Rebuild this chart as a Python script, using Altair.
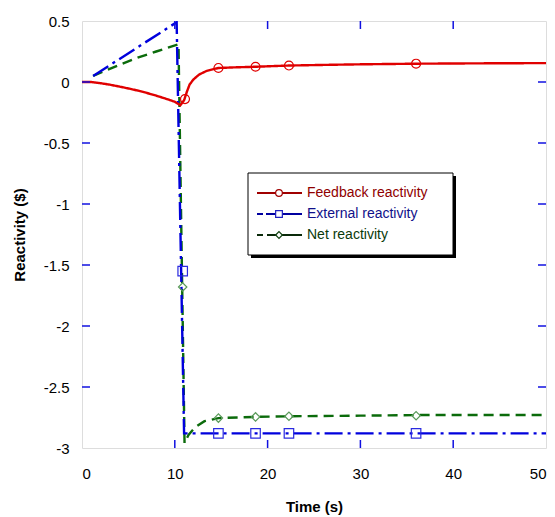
import altair as alt
import pandas as pd

# ---------------- data ----------------
fb_t = [0, 1, 2, 3, 4, 5, 6, 7, 8, 9, 10, 10.6, 11.0, 11.3, 11.6, 12.0, 12.6, 13.4, 14.7, 16.5, 18.7, 22.3, 26, 30, 36, 43, 50]
fb_v = [0, 0, -0.01, -0.022, -0.037, -0.053, -0.07, -0.09, -0.112, -0.136, -0.162, -0.19, -0.15, -0.08, -0.02, 0.02, 0.06, 0.09, 0.115, 0.12, 0.125, 0.135, 0.14, 0.145, 0.15, 0.153, 0.155]

ext_t = [1.2, 10.2, 11.0, 50]
ext_v = [0.05, 0.49, -2.88, -2.88]

net_t = [1.2, 4, 6, 8, 10.4, 11.05, 11.5, 12.2, 13.2, 14.7, 18.7, 22.3, 30, 36, 50]
net_v = [0.05, 0.14, 0.2, 0.25, 0.31, -2.96, -2.89, -2.83, -2.78, -2.755, -2.745, -2.74, -2.735, -2.73, -2.73]

fb_mt = [11.1, 14.7, 18.7, 22.3, 36]
fb_mv = [-0.14, 0.115, 0.125, 0.135, 0.15]
ext_mt = [10.85, 14.7, 18.7, 22.3, 36]
ext_mv = [-1.55, -2.88, -2.88, -2.88, -2.88]
net_mt = [10.85, 14.7, 18.7, 22.3, 36]
net_mv = [-1.68, -2.755, -2.745, -2.74, -2.735]

x_ticks = [0, 10, 20, 30, 40, 50]
y_ticks = [0.5, 0, -0.5, -1, -1.5, -2, -2.5, -3]
x_inner_ticks = [10, 20, 30, 40]
y_inner_ticks = [0, -0.5, -1, -1.5, -2, -2.5]

legend_labels = ["Feedback reactivity", "External reactivity", "Net reactivity"]

# ---------------- styling ----------------
W, H = 464, 427
FONT = "Liberation Sans"
RED, BLUE, GREEN = "#e00000", "#0000dd", "#0b6b0b"
FRAME = "#3c3cff"

xs = alt.Scale(domain=[0, 50], nice=False, zero=False)
ys = alt.Scale(domain=[-3, 0.5], nice=False, zero=False)

x_axis = alt.Axis(values=x_ticks, title="Time (s)", grid=False, domain=False, ticks=False, tickSize=0,
                  labelPadding=18, labelFontSize=15, labelFont=FONT, labelColor="black",
                  titleFont=FONT, titleFontSize=15, titleFontWeight="bold", titleColor="black",
                  titleY=51, titleBaseline="top")
y_axis = alt.Axis(values=y_ticks, title="Reactivity ($)", grid=False, domain=False, ticks=False, tickSize=0,
                  labelPadding=13, labelFontSize=15, labelFont=FONT, labelColor="black",
                  labelExpr="toString(datum.value)",
                  titleFont=FONT, titleFontSize=15, titleFontWeight="bold", titleColor="black",
                  titleX=-63, titleBaseline="middle")


def X():
    return alt.X("t:Q", scale=xs, axis=x_axis, title="Time (s)")


def Y():
    return alt.Y("v:Q", scale=ys, axis=y_axis, title="Reactivity ($)")


def line_layer(ts, vs, color, dash):
    df = pd.DataFrame({"t": ts, "v": vs})
    return alt.Chart(df).mark_line(color=color, strokeWidth=2.4, strokeDash=dash, clip=True).encode(
        x=X(), y=Y())


def marker_layer(ts, vs, color, shape, size):
    df = pd.DataFrame({"t": ts, "v": vs})
    return alt.Chart(df).mark_point(shape=shape, color=color, filled=False, size=size, strokeWidth=1.2,
                                    opacity=1).encode(x=X(), y=Y())


net_line = line_layer(net_t, net_v, GREEN, [10, 6])
ext_line = line_layer(ext_t, ext_v, BLUE, [18, 5, 3, 5])
fb_line = line_layer(fb_t, fb_v, RED, [1, 0])

net_marks = marker_layer(net_mt, net_mv, "#5a9a5a", "diamond", 70)
ext_marks = marker_layer(ext_mt, ext_mv, "#2a2ae0", "square", 90)
fb_marks = marker_layer(fb_mt, fb_mv, RED, "circle", 80)

# inward ticks on all four sides
xt = pd.DataFrame({"t": x_inner_ticks})
yt = pd.DataFrame({"v": y_inner_ticks})
tick_bottom = alt.Chart(xt).mark_rule(color="#1010e0", strokeWidth=1.5).encode(
    x=X(), y=alt.value(H), y2=alt.value(H - 8))
tick_top = alt.Chart(xt).mark_rule(color="#1010e0", strokeWidth=1.5).encode(
    x=X(), y=alt.value(0), y2=alt.value(8))
tick_left = alt.Chart(yt).mark_rule(color="#1010e0", strokeWidth=1.5).encode(
    y=Y(), x=alt.value(0), x2=alt.value(8))
tick_right = alt.Chart(yt).mark_rule(color="#1010e0", strokeWidth=1.5).encode(
    y=Y(), x=alt.value(W), x2=alt.value(W - 8))

# ---------------- manual legend ----------------
one = pd.DataFrame({"a": [0]})
LX0, LX1, LY0, LY1 = 166, 371, 152, 234
legend_shadow = alt.Chart(one).mark_rect(fill="black").encode(
    x=alt.value(LX0 + 3), x2=alt.value(LX1 + 3), y=alt.value(LY0 + 3), y2=alt.value(LY1 + 3))
legend_box = alt.Chart(one).mark_rect(fill="white", stroke="black", strokeWidth=1).encode(
    x=alt.value(LX0), x2=alt.value(LX1), y=alt.value(LY0), y2=alt.value(LY1))

rows_y = [172, 193, 214]
line_cols = ["#a00000", "#0000a0", "#0a2a0a"]
line_dash = [[1, 0], [6, 3, 40, 200], [6, 4, 40, 200]]
mark_cols = ["#a00000", "#2020c0", "#104010"]
mark_shapes = ["circle", "square", "diamond"]
text_cols = ["#900000", "#10108a", "#0a3a0a"]

legend_layers = [legend_shadow, legend_box]
for i in range(3):
    yy = rows_y[i]
    legend_layers.append(alt.Chart(one).mark_rule(color=line_cols[i], strokeWidth=2, strokeDash=line_dash[i]).encode(
        x=alt.value(175), x2=alt.value(220), y=alt.value(yy)))
    legend_layers.append(alt.Chart(one).mark_point(shape=mark_shapes[i], stroke=mark_cols[i], filled=True,
                                                   fill="white", size=45, strokeWidth=1.2, opacity=1,
                                                   fillOpacity=1, strokeOpacity=1).encode(
        x=alt.value(197), y=alt.value(yy)))
    legend_layers.append(alt.Chart(pd.DataFrame({"label": [legend_labels[i]]})).mark_text(
        align="left", baseline="middle", font=FONT, fontSize=14, color=text_cols[i]).encode(
        x=alt.value(225), y=alt.value(yy), text="label:N"))

chart = alt.layer(
    net_line, ext_line, fb_line,
    net_marks, ext_marks, fb_marks,
    tick_bottom, tick_top, tick_left, tick_right,
    *legend_layers
).properties(
    width=W, height=H,
    autosize=alt.AutoSizeParams(type="none"),
    padding={"left": 74, "top": 13, "right": 1, "bottom": 69},
).configure_view(
    stroke=FRAME, strokeWidth=1.6
).configure(background="white")

chart.save("out.html", embed_options={"renderer": "svg", "actions": False})
